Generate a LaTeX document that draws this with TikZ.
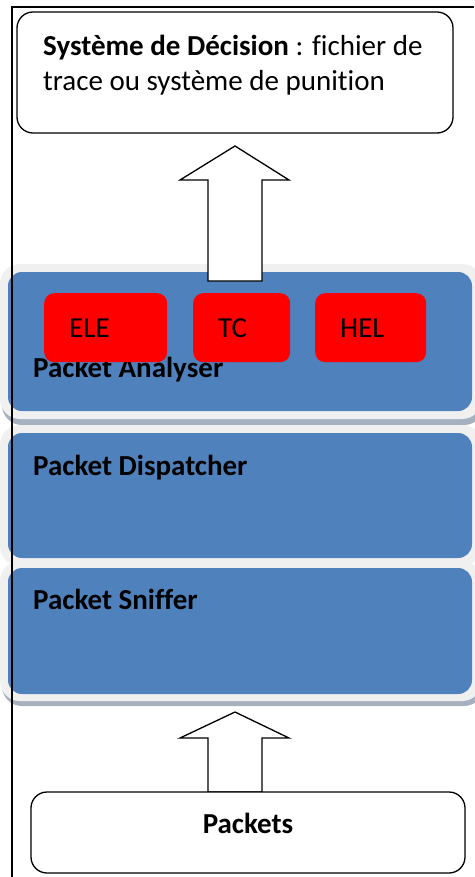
\documentclass[tikz,border=0pt]{standalone}
\usepackage{fontspec}
\setmainfont{Carlito}[Ligatures=NoCommon]
\usepackage{tikz}
\usetikzlibrary{positioning}

\definecolor{layerblue}{HTML}{4F81BD}
\definecolor{halogray}{HTML}{F0F0F0}
\definecolor{shadowgray}{HTML}{A7B0BF}

\tikzset{
  layer/.style={fill=layerblue, rounded corners=14pt, minimum width=464pt, inner sep=0pt},
  halo/.style={fill=halogray, rounded corners=20pt},
  layershadow/.style={fill=shadowgray, rounded corners=20pt},
  layerlabel/.style={anchor=base west, inner sep=0pt, font=\bfseries\fontsize{29}{35}\selectfont},
  plainlabel/.style={anchor=base west, inner sep=0pt, font=\fontsize{29}{35}\selectfont},
  redbox/.style={fill=red, rounded corners=10pt, anchor=north west, minimum height=69pt,
    inner xsep=25pt, inner ysep=0pt, align=left, font=\fontsize{29}{35}\selectfont},
  whitebox/.style={draw=black, line width=1.3pt, fill=white, rounded corners=16pt, inner sep=0pt},
  blockarrow/.style={draw=black, line width=1.3pt, fill=white, line join=miter},
}

\begin{document}
\begin{tikzpicture}[x=1pt,y=-1pt]
\useasboundingbox (0,0) rectangle (474,877);

% the three layers
\fill[layershadow] (2,270) rectangle (484,425);
\fill[halo] (0,264) rectangle (482,419);
\node[layer, minimum height=139pt] (analyser) at (240,341.5) {};
\fill[halo] (0,425) rectangle (482,566);
\node[layer, minimum height=125pt] (dispatcher) at (240,495.5) {};
\fill[layershadow] (2,567) rectangle (484,706);
\fill[halo] (0,561) rectangle (482,701);
\node[layer, minimum height=126pt] (sniffer) at (240,631) {};

\node[layerlabel] (analyserlabel) at (33,377) {Packet Analyser};
\node[layerlabel] (dispatcherlabel) at (33,475) {Packet Dispatcher};
\node[layerlabel] (snifferlabel) at (33,609) {Packet Sniffer};

% modules
\node[redbox, text width=73pt] (ele) at (44,293) {ELE};
\node[redbox, text width=47pt] (tc) at (193,293) {TC};
\node[redbox, text width=61pt] (hel) at (315,293) {HEL};

% decision box
\node[whitebox, minimum width=436pt, minimum height=121pt] (decision) at (235,72.5) {};
\node[plainlabel] (decisionone) at (43,56) {\textbf{Système de Décision} : fichier de};
\node[plainlabel] (decisiontwo) at (43,91) {trace ou système de punition};

% arrows
\filldraw[blockarrow] (208,281) -- (208,180) -- (180,180) -- (235,146) -- (289,180) -- (262,180) -- (262,281) -- cycle;
\filldraw[blockarrow] (208,792) -- (208,738) -- (180,738) -- (235,712) -- (289,738) -- (262,738) -- (262,792) -- cycle;

% packets box
\node[whitebox, minimum width=434pt, minimum height=81pt] (packets) at (248,832.5) {};
\node[anchor=base, inner sep=0pt, font=\bfseries\fontsize{29}{35}\selectfont] (packetslabel) at (248,833) {Packets};

% frame
\draw[line width=1.5pt] (12,877) -- (12,7) -- (474,7);
\end{tikzpicture}
\end{document}
